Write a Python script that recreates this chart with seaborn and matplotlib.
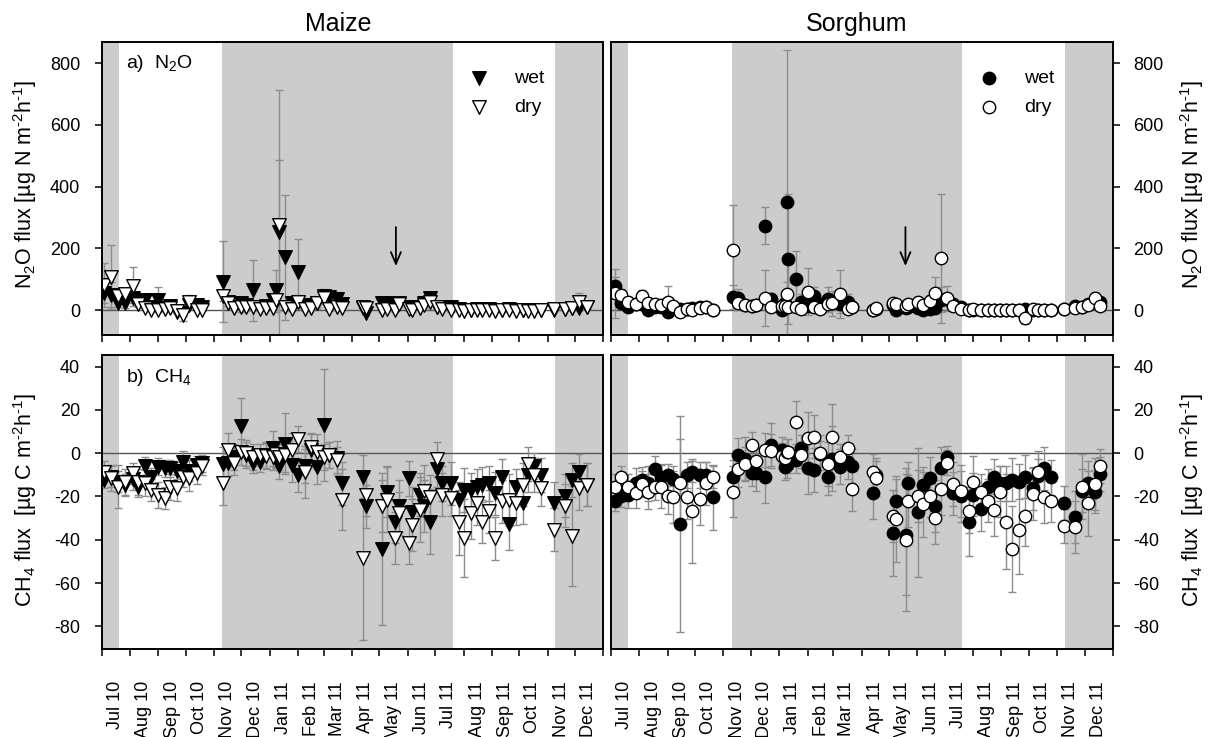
import pandas as pd
import matplotlib
matplotlib.use("Agg")
import matplotlib.pyplot as plt
import matplotlib.dates as mdates
import seaborn as sns

# ---------------- sampling dates ----------------
maize_dates = [
    "2010-07-03", "2010-07-11", "2010-07-19", "2010-07-27", "2010-08-04", "2010-08-10", "2010-08-17", "2010-08-24",
    "2010-09-01", "2010-09-08", "2010-09-14", "2010-09-21", "2010-09-28", "2010-10-05", "2010-10-13", "2010-10-19",
    "2010-11-11", "2010-11-16", "2010-11-23", "2010-12-01", "2010-12-06", "2010-12-14", "2010-12-21", "2010-12-28",
    "2011-01-04", "2011-01-08", "2011-01-11", "2011-01-18", "2011-01-25", "2011-02-01", "2011-02-08", "2011-02-15",
    "2011-02-22", "2011-03-01", "2011-03-07", "2011-03-15", "2011-03-21",
    "2011-04-13", "2011-04-16", "2011-05-04", "2011-05-09", "2011-05-18", "2011-05-22", "2011-06-02", "2011-06-06",
    "2011-06-14", "2011-06-19", "2011-06-25", "2011-07-03", "2011-07-09", "2011-07-18",
    "2011-07-27", "2011-08-01", "2011-08-09", "2011-08-16", "2011-08-21", "2011-08-29", "2011-09-05", "2011-09-12",
    "2011-09-20", "2011-09-27", "2011-10-05", "2011-10-11", "2011-10-17", "2011-10-25", "2011-11-08", "2011-11-20",
    "2011-11-28", "2011-12-05", "2011-12-14",
]
sorghum_dates = [
    "2010-07-05", "2010-07-12", "2010-07-20", "2010-07-28", "2010-08-04", "2010-08-11", "2010-08-18", "2010-08-25",
    "2010-09-01", "2010-09-07", "2010-09-15", "2010-09-22", "2010-09-28", "2010-10-06", "2010-10-13", "2010-10-21",
    "2010-11-11", "2010-11-17", "2010-11-25", "2010-12-02", "2010-12-07", "2010-12-16", "2010-12-23", "2011-01-04",
    "2011-01-07", "2011-01-09", "2011-01-11", "2011-01-19", "2011-01-25", "2011-02-01", "2011-02-08", "2011-02-15",
    "2011-02-23", "2011-02-28", "2011-03-08", "2011-03-17", "2011-03-22",
    "2011-04-13", "2011-04-17", "2011-05-05", "2011-05-09", "2011-05-20", "2011-05-22", "2011-06-02", "2011-06-07",
    "2011-06-15", "2011-06-20", "2011-06-27", "2011-07-04", "2011-07-10", "2011-07-19",
    "2011-07-28", "2011-08-01", "2011-08-10", "2011-08-17", "2011-08-24", "2011-08-30", "2011-09-06", "2011-09-12",
    "2011-09-20", "2011-09-27", "2011-10-06", "2011-10-11", "2011-10-17", "2011-10-25", "2011-11-08", "2011-11-20",
    "2011-11-28", "2011-12-05", "2011-12-12", "2011-12-18",
]

# ---------------- maize fluxes (mean and error) ----------------
maize_n2o_wet = [55, 50, 25, 23, 39, 25, 34, 10, 34, 7, 15, -5, -9, 17, 17, 12,
                 93, 28, 12, 23, 17, 64, 12, 15, 34, 66, 254, 171, 23, 123, 17, 12, 25, 45, 42, 38, 20,
                 7, -9, 23, 17, 23, 25, 10, 7, 12, 23, 39, 12, 10, 10,
                 4, 1, 2, 3, 4, 3, 0, 2, 3, 1, 2, 1, 0, 1, 2, 5, 6, 8, 10]
maize_n2o_wet_se = [30, 40, 15, 15, 15, 10, 15, 10, 40, 5, 5, 5, 10, 10, 8, 8,
                    130, 15, 10, 15, 15, 100, 10, 10, 20, 64, 231, 201, 15, 109, 10, 10, 20, 25, 25, 20, 10,
                    5, 5, 8, 5, 8, 10, 5, 5, 5, 8, 12, 5, 5, 5,
                    3, 3, 3, 3, 3, 3, 3, 3, 3, 3, 3, 3, 3, 3, 3, 4, 4, 5, 6]
maize_n2o_dry = [82, 107, 45, 53, 77, 20, 8, 2, 2, 4, 8, -2, -15, 28, 2, 2,
                 45, 25, 7, 10, 12, 10, 4, 8, 8, 34, 276, 12, 4, 28, 4, 7, 25, 39, 4, 10, 7,
                 12, 7, 1, 3, 1, 20, 3, 1, 7, 17, 28, 12, 3, 1,
                 2, -2, 1, 0, 1, 0, -2, 0, 1, -1, 0, -1, -2, 1, 3, 4, 6, 28, 10]
maize_n2o_dry_se = [70, 104, 20, 20, 62, 10, 8, 5, 5, 5, 8, 8, 20, 20, 5, 5,
                    15, 10, 5, 15, 10, 10, 5, 5, 5, 40, 437, 15, 5, 20, 5, 5, 15, 20, 5, 10, 5,
                    5, 5, 5, 5, 5, 8, 5, 5, 5, 8, 12, 5, 5, 5,
                    3, 3, 3, 3, 3, 3, 3, 3, 3, 3, 3, 3, 3, 3, 4, 4, 5, 28, 6]

maize_ch4_wet = [-12.3, -10.8, -13.1, -14.6, -12.0, -15.4, -5.9, -10.8, -6.2, -7.0, -7.0, -8.0, -3.9, -8.0, -5.4, -4.6,
                 -5.0, -4.6, -1.6, 12.6, -0.8, -4.3, -3.9, -0.8, 2.2, -0.8, -5.9, 4.4, -5.4, -10.0, -5.9, 1.4,
                 -6.2, 13.1, -0.8, -2.3, -13.9,
                 -10.8, -24.6, -44.3, -17.7, -31.6, -24.6, -11.6, -27.4, -19.2, -24.6, -31.6, -7.4, -13.9, -13.9,
                 -21.5, -17.0, -17.0, -15.4, -14.6, -13.9, -18.5, -10.8, -32.8, -15.4, -22.8, -10.0, -5.9, -10.0,
                 -23.1, -19.7, -12.3, -8.5, -14.6]
maize_ch4_wet_se = [4, 5, 5, 5, 5, 5, 4, 4, 4, 4, 4, 4, 5, 5, 4, 4,
                    8, 6, 6, 13, 6, 5, 5, 6, 8, 6, 6, 14, 8, 8, 8, 8, 8, 26, 6, 8, 10,
                    10, 10, 35, 12, 10, 12, 8, 12, 10, 12, 15, 8, 8, 10,
                    8, 10, 8, 8, 8, 8, 10, 8, 12, 8, 10, 8, 6, 8, 10, 10, 8, 8, 10]
maize_ch4_dry = [-8.5, -11.6, -15.4, -13.1, -9.3, -13.1, -13.9, -16.9, -19.2, -20.8, -15.4, -16.2, -10.8, -11.6, -9.3, -5.9,
                 -13.9, 1.4, -4.3, 0.7, -0.1, -1.6, -0.8, -1.2, -1.6, -0.5, -1.6, -0.8, 1.4, 6.4, -8.5, 3.0,
                 0.7, -1.6, -0.8, -3.1, -21.5,
                 -48.5, -19.2, -24.6, -21.5, -39.3, -27.7, -41.3, -33.1, -26.2, -17.3, -20.3, -2.8, -19.2, -20.8,
                 -32.0, -39.3, -27.7, -23.1, -31.6, -26.9, -39.3, -22.3, -21.5, -23.1, -14.6, -5.0, -10.0, -16.2,
                 -35.4, -24.3, -38.2, -16.2, -14.6]
maize_ch4_dry_se = [5, 6, 10, 6, 5, 6, 6, 5, 6, 5, 6, 6, 5, 6, 5, 4,
                    10, 8, 6, 6, 6, 6, 5, 6, 6, 6, 6, 8, 8, 6, 12, 6, 8, 6, 6, 6, 14,
                    38, 10, 12, 15, 12, 10, 10, 12, 15, 12, 10, 8, 10, 8,
                    15, 18, 12, 10, 10, 10, 10, 10, 12, 10, 10, 8, 8, 8, 10, 10, 23, 10, 10]

# ---------------- sorghum fluxes (mean and error) ----------------
sorghum_n2o_wet = [77, 25, 10, 20, 20, 2, 12, 12, -5, 8, 5, 5, 8, 10, 12, 0,
                   43, 40, 18, 15, 18, 274, 36, 2, 25, 351, 165, 101, 27, 15, 45, 20, 35, 25, 20, 28, 12,
                   2, 5, 17, 1, 8, 10, 7, 2, 5, 8, 34, 35, 20, 12,
                   2, 1, 0, 1, 2, 1, 0, 1, 2, 3, 1, 2, 0, 1, 5, 15, 12, 20, 34, 28]
sorghum_n2o_wet_se = [30, 15, 10, 10, 10, 10, 10, 10, 10, 10, 8, 8, 8, 8, 8, 8,
                      40, 30, 15, 10, 10, 61, 20, 10, 15, 490, 210, 91, 25, 20, 30, 20, 40, 25, 30, 25, 15,
                      8, 8, 10, 5, 8, 8, 10, 8, 10, 15, 40, 20, 10, 8,
                      5, 5, 5, 5, 5, 5, 5, 5, 5, 5, 5, 5, 5, 5, 8, 10, 10, 12, 15, 10]
sorghum_n2o_dry = [55, 48, 27, 21, 45, 25, 20, 17, 27, 14, -7, 4, 1, 7, 12, 1,
                   195, 22, 17, 14, 17, 40, 12, 14, 14, 52, 10, 10, 4, 60, 12, 4, 20, 22, 53, 4, 10,
                   1, 6, 25, 20, 15, 20, 27, 17, 31, 55, 168, 39, 14, 4,
                   1, 3, 0, 0, 0, 1, 0, 0, 0, -25, 5, 2, 1, 0, 4, 8, 12, 18, 39, 14]
sorghum_n2o_dry_se = [80, 20, 15, 15, 20, 15, 10, 15, 50, 10, 15, 10, 10, 10, 10, 5,
                      147, 20, 15, 15, 15, 90, 10, 10, 10, 40, 10, 10, 10, 76, 20, 10, 25, 40, 78, 10, 10,
                      5, 8, 15, 12, 10, 15, 15, 12, 20, 53, 208, 40, 10, 5,
                      5, 5, 5, 5, 5, 5, 5, 5, 5, 20, 5, 5, 5, 5, 8, 10, 10, 12, 20, 10]

sorghum_ch4_wet = [-21.9, -20.0, -19.3, -13.9, -12.5, -13.9, -7.4, -11.0, -10.0, -12.0, -32.8, -10.0, -8.5, -10.0, -10.0, -20.3,
                   -11.1, -0.8, -2.5, -9.3, -9.3, -10.8, 4.0, 1.4, -6.2, -5.5, -3.1, -3.1, 2.2, -7.0, -7.7, -0.5,
                   -11.1, -2.5, -6.2, -4.0, -5.9,
                   -18.3, -10.0, -36.9, -21.9, -37.7, -13.9, -27.4, -14.6, -11.6, -24.3, -7.0, -1.6, -18.5, -20.0,
                   -31.6, -19.2, -25.9, -15.4, -10.8, -13.9, -13.9, -12.3, -13.1, -10.8, -16.2, -10.5, -7.0, -11.1,
                   -23.1, -29.6, -17.3, -13.6, -17.7, -9.6]
sorghum_ch4_wet_se = [5, 5, 6, 7, 6, 8, 6, 6, 5, 6, 50, 6, 5, 6, 6, 15,
                      8, 8, 10, 6, 8, 12, 10, 6, 6, 6, 6, 6, 6, 12, 10, 6, 8, 15, 8, 8, 8,
                      12, 8, 20, 10, 28, 10, 30, 8, 10, 12, 10, 5, 10, 12,
                      16, 10, 10, 8, 8, 8, 8, 10, 8, 10, 10, 8, 10, 8, 8, 12, 10, 10, 10, 8]
sorghum_ch4_dry = [-15.4, -11.1, -15.4, -18.5, -14.3, -17.7, -15.4, -15.4, -20.0, -20.3, -13.6, -20.3, -26.6, -21.2, -13.9, -11.1,
                   -17.7, -7.4, -5.0, 3.6, -3.4, 1.4, 1.1, -1.5, -2.2, 0.7, 0.5, 14.3, -0.8, 6.9, 7.7, 0.2,
                   -5.0, 7.7, -1.9, 2.2, -16.6,
                   -8.5, -11.6, -28.9, -30.5, -40.0, -22.0, -19.7, -23.6, -19.7, -30.1, -16.6, -4.3, -14.2, -17.4,
                   -26.9, -13.1, -17.7, -22.0, -26.2, -17.7, -31.6, -44.3, -35.7, -28.9, -18.8, -8.9, -20.3, -21.9,
                   -33.6, -33.9, -15.4, -23.1, -14.2, -5.9]
sorghum_ch4_dry_se = [6, 5, 6, 7, 6, 8, 6, 10, 8, 12, 20, 10, 24, 12, 10, 5,
                      12, 8, 8, 6, 6, 8, 8, 6, 6, 6, 6, 10, 6, 12, 10, 8, 10, 15, 6, 6, 10,
                      8, 8, 12, 20, 33, 12, 12, 15, 10, 12, 12, 6, 10, 12,
                      10, 12, 8, 10, 12, 12, 22, 20, 20, 14, 12, 10, 12, 10, 8, 12, 15, 15, 12, 8]

# growing-season shading (start, end)
shaded_periods = [("2010-06-20", "2010-07-20"), ("2010-11-10", "2011-07-20"), ("2011-11-09", "2012-01-10")]
# date of the event marked by the arrow
arrow_date = "2011-05-19"

# ---------------- styling ----------------
sns.set_theme(style="ticks")
plt.rcParams["font.family"] = ["Liberation Sans", "DejaVu Sans"]
plt.rcParams["mathtext.fontset"] = "custom"
plt.rcParams["mathtext.rm"] = "Liberation Sans"
plt.rcParams["mathtext.it"] = "Liberation Sans:italic"
plt.rcParams["mathtext.bf"] = "Liberation Sans:bold"
plt.rcParams["axes.unicode_minus"] = False
for key in ("text.color", "axes.labelcolor", "xtick.color", "ytick.color",
            "xtick.labelcolor", "ytick.labelcolor", "axes.edgecolor"):
    plt.rcParams[key] = "black"

SHADE = "#cccccc"
ERR = "#8c8c8c"
TICK_FS = 13
XMIN, XMAX = pd.Timestamp("2010-07-01"), pd.Timestamp("2012-01-01")

fig = plt.figure(figsize=(12.12, 7.37), dpi=100)
W, H = 1212, 737


def frame(x0, y0, x1, y1):
    return [x0 / W, 1 - y1 / H, (x1 - x0) / W, (y1 - y0) / H]


ax_mn = fig.add_axes(frame(101.7, 42, 603.3, 335))
ax_sn = fig.add_axes(frame(611, 42, 1113, 335))
ax_mc = fig.add_axes(frame(101.7, 355, 603.3, 649))
ax_sc = fig.add_axes(frame(611, 355, 1113, 649))


def make_frame(dates, wet, wet_se, dry, dry_se):
    return pd.DataFrame({
        "date": pd.to_datetime(dates),
        "wet": wet, "wet_se": wet_se,
        "dry": dry, "dry_se": dry_se,
    })


def draw(ax, df, marker, size, ylim, yticks, right, xlabels):
    for a, b in shaded_periods:
        ax.axvspan(pd.Timestamp(a), pd.Timestamp(b), color=SHADE, lw=0, zorder=0)
    ax.axhline(0, color="#555555", lw=1.0, zorder=1)
    for col in ("wet", "dry"):
        ax.errorbar(df["date"], df[col], yerr=df[col + "_se"], fmt="none", ecolor=ERR,
                    elinewidth=1.0, capsize=3.2, capthick=1.0, zorder=2)
    sns.scatterplot(data=df, x="date", y="wet", ax=ax, marker=marker, s=size, color="black",
                    edgecolor="black", linewidth=1.0, label="wet", legend=False, zorder=3)
    sns.scatterplot(data=df, x="date", y="dry", ax=ax, marker=marker, s=size, color="white",
                    edgecolor="black", linewidth=1.0, label="dry", legend=False, zorder=4)
    ax.set_xlim(XMIN, XMAX)
    ax.set_ylim(*ylim)
    ax.set_yticks(yticks)
    ax.set_xlabel("")
    ax.set_ylabel("")
    ax.set_facecolor("white")
    for s in ax.spines.values():
        s.set_linewidth(1.4)
        s.set_color("black")
        s.set_visible(True)
        s.set_zorder(6)

    ax.xaxis.set_major_locator(mdates.MonthLocator())
    ax.xaxis.set_major_formatter(plt.NullFormatter())
    ax.xaxis.set_minor_locator(mdates.MonthLocator(bymonthday=16))
    if xlabels:
        ax.xaxis.set_minor_formatter(mdates.DateFormatter("%b %y"))
    else:
        ax.xaxis.set_minor_formatter(plt.NullFormatter())
    ax.tick_params(axis="x", which="major", direction="out", length=5, width=1.1, color="black",
                   top=False, bottom=True)
    ax.tick_params(axis="x", which="minor", length=0, pad=23, labelsize=TICK_FS, labelrotation=90,
                   labelcolor="black", top=False, bottom=True)

    if right:
        ax.yaxis.tick_right()
        ax.tick_params(axis="y", which="major", direction="out", length=5, width=1.1, color="black",
                       left=False, right=True, labelleft=False, labelright=True, pad=9.5,
                       labelsize=TICK_FS, labelcolor="black")
    else:
        ax.tick_params(axis="y", which="major", direction="out", length=5, width=1.1, color="black",
                       left=True, right=False, labelleft=True, labelright=False, pad=10.5,
                       labelsize=TICK_FS, labelcolor="black")
    ax.tick_params(axis="y", which="minor", left=False, right=False)
    ax.grid(False)


maize = make_frame(maize_dates, maize_n2o_wet, maize_n2o_wet_se, maize_n2o_dry, maize_n2o_dry_se)
maize_c = make_frame(maize_dates, maize_ch4_wet, maize_ch4_wet_se, maize_ch4_dry, maize_ch4_dry_se)
sorg = make_frame(sorghum_dates, sorghum_n2o_wet, sorghum_n2o_wet_se, sorghum_n2o_dry, sorghum_n2o_dry_se)
sorg_c = make_frame(sorghum_dates, sorghum_ch4_wet, sorghum_ch4_wet_se, sorghum_ch4_dry, sorghum_ch4_dry_se)

N2O_LIM, N2O_TICKS = (-80, 868), [0, 200, 400, 600, 800]
CH4_LIM, CH4_TICKS = (-90.5, 45.4), [-80, -60, -40, -20, 0, 20, 40]

draw(ax_mn, maize, "v", 95, N2O_LIM, N2O_TICKS, right=False, xlabels=False)
draw(ax_sn, sorg, "o", 80, N2O_LIM, N2O_TICKS, right=True, xlabels=False)
draw(ax_mc, maize_c, "v", 95, CH4_LIM, CH4_TICKS, right=False, xlabels=True)
draw(ax_sc, sorg_c, "o", 80, CH4_LIM, CH4_TICKS, right=True, xlabels=True)

# legends
for ax in (ax_mn, ax_sn):
    handles, labels = ax.get_legend_handles_labels()
    ax.legend(handles, labels, loc="upper left", bbox_to_anchor=(0.733, 0.905), frameon=False,
              borderaxespad=0, borderpad=0, handlelength=1.0, handletextpad=1.3,
              labelspacing=0.55, fontsize=14)

# arrows
for ax in (ax_mn, ax_sn):
    ax.annotate("", xy=(pd.Timestamp(arrow_date), 134), xytext=(pd.Timestamp(arrow_date), 278),
                arrowprops=dict(arrowstyle="->,head_length=0.7,head_width=0.3", color="black", lw=1.3),
                zorder=7)

# panel labels
ax_mn.text(0.048, 0.927, "a)  N$_2$O", transform=ax_mn.transAxes, va="center", ha="left", fontsize=14)
ax_mc.text(0.048, 0.925, "b)  CH$_4$", transform=ax_mc.transAxes, va="center", ha="left", fontsize=14)

# column titles
fig.text(338 / W, 1 - 31 / H, "Maize", ha="center", va="baseline", fontsize=18)
fig.text(857 / W, 1 - 31 / H, "Sorghum", ha="center", va="baseline", fontsize=18)

# axis titles (short hyphen in the unit exponents)
n2o_label = "N$_2$O flux [µg N m$^{\u2010 2}$h$^{\u2010 1}$]".replace("\u2010 ", "\u2010")
ch4_label = "CH$_4$ flux  [µg C m$^{\u2010 2}$h$^{\u2010 1}$]".replace("\u2010 ", "\u2010")
fig.text(25 / W, 1 - 184 / H, n2o_label, rotation=90, ha="center", va="center", fontsize=15.5)
fig.text(1192 / W, 1 - 184 / H, n2o_label, rotation=90, ha="center", va="center", fontsize=15.5)
fig.text(25 / W, 1 - 500 / H, ch4_label, rotation=90, ha="center", va="center", fontsize=15.5)
fig.text(1192 / W, 1 - 500 / H, ch4_label, rotation=90, ha="center", va="center", fontsize=15.5)

fig.savefig("out.png", dpi=100)
